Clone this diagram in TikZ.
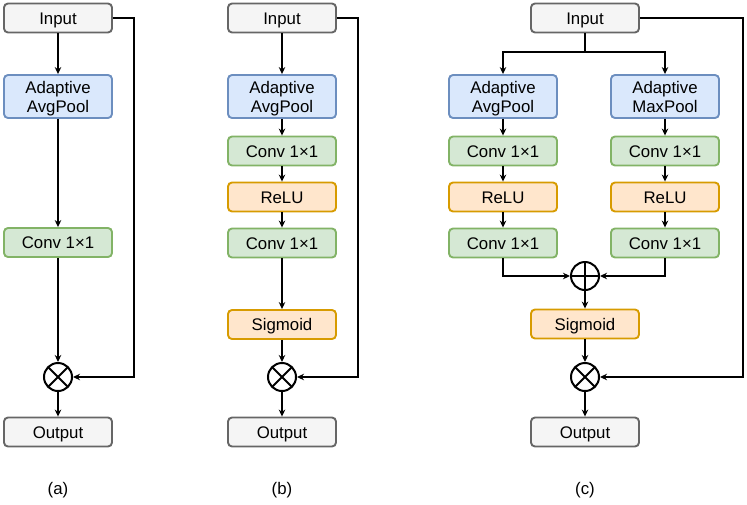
\documentclass[tikz,border=0pt]{standalone}
\usepackage{fontspec}
\setmainfont{Liberation Sans}
\usetikzlibrary{calc}
\usetikzlibrary{arrows.meta}
\definecolor{ioFill}{HTML}{F5F5F5}
\definecolor{ioLine}{HTML}{666666}
\definecolor{poolFill}{HTML}{DAE8FC}
\definecolor{poolLine}{HTML}{6C8EBF}
\definecolor{convFill}{HTML}{D5E8D4}
\definecolor{convLine}{HTML}{82B366}
\definecolor{actFill}{HTML}{FFE6CC}
\definecolor{actLine}{HTML}{D79B00}
\tikzstyle{blk} = [draw, rectangle, rounded corners=4pt, line width=1.9pt, minimum width=108pt, minimum height=29pt, inner sep=0pt, align=center, text height=12pt, text depth=0pt, font=\fontsize{16.8}{19}\selectfont]
\tikzstyle{ionode} = [blk, fill=ioFill, draw=ioLine]
\tikzstyle{poolnode} = [blk, fill=poolFill, draw=poolLine, minimum height=43pt, text height=31pt]
\tikzstyle{convnode} = [blk, fill=convFill, draw=convLine]
\tikzstyle{actnode} = [blk, fill=actFill, draw=actLine]
\tikzstyle{opnode} = [draw, circle, line width=2pt, minimum size=28pt, inner sep=0pt, fill=white]
\tikzstyle{mulnode} = [opnode, path picture={\draw[line width=2pt] (path picture bounding box.north west) -- (path picture bounding box.south east) (path picture bounding box.north east) -- (path picture bounding box.south west);}]
\tikzstyle{addnode} = [opnode, path picture={\draw[line width=2pt] (path picture bounding box.west) -- (path picture bounding box.east) (path picture bounding box.north) -- (path picture bounding box.south);}]
\tikzstyle{arr} = [-{Stealth[length=7pt,width=6.5pt]}, line width=1.3pt]
\tikzstyle{caption} = [font=\fontsize{16.8}{19}\selectfont]

\begin{document}
\begin{tikzpicture}[x=1pt, y=1pt]
\useasboundingbox (0,0) rectangle (747,-504);
% (a)
\node[ionode] (inA) at (58,-18) {Input};
\node[poolnode] (poolA) at ($(inA)+(0,-78.5)$) {Adaptive\\AvgPool};
\node[convnode] (convA) at ($(poolA)+(0,-146)$) {Conv 1×1};
\node[mulnode] (mulA) at ($(convA)+(0,-134.5)$) {};
\node[ionode] (outA) at ($(mulA)+(0,-55)$) {Output};
\coordinate (skipA) at ($(mulA)+(76,0)$);
\node[caption] (capA) at ($(outA)+(0,-58)$) {(a)};
\draw[arr] (inA) -- (poolA);
\draw[arr] (poolA) -- (convA);
\draw[arr] (convA) -- (mulA);
\draw[arr] (mulA) -- (outA);
\draw[arr] (inA.east) -| (skipA) -- (mulA.east);

% (b)
\node[ionode] (inB) at ($(inA)+(224,0)$) {Input};
\node[poolnode] (poolB) at ($(inB)+(0,-78.5)$) {Adaptive\\AvgPool};
\node[convnode] (convB1) at ($(poolB)+(0,-54.5)$) {Conv 1×1};
\node[actnode] (reluB) at ($(convB1)+(0,-46)$) {ReLU};
\node[convnode] (convB2) at ($(reluB)+(0,-46)$) {Conv 1×1};
\node[actnode] (sigB) at ($(convB2)+(0,-81.5)$) {Sigmoid};
\node[mulnode] (mulB) at ($(sigB)+(0,-52.5)$) {};
\node[ionode] (outB) at ($(mulB)+(0,-55)$) {Output};
\coordinate (skipB) at ($(mulB)+(76,0)$);
\node[caption] (capB) at ($(outB)+(0,-58)$) {(b)};
\draw[arr] (inB) -- (poolB);
\draw[arr] (poolB) -- (convB1);
\draw[arr] (convB1) -- (reluB);
\draw[arr] (reluB) -- (convB2);
\draw[arr] (convB2) -- (sigB);
\draw[arr] (sigB) -- (mulB);
\draw[arr] (mulB) -- (outB);
\draw[arr] (inB.east) -| (skipB) -- (mulB.east);

% (c)
\node[ionode] (inC) at ($(inB)+(303,0)$) {Input};
\coordinate (splitC) at ($(inC)+(0,-34)$);
\node[poolnode] (poolL) at ($(inC)+(-82,-78.5)$) {Adaptive\\AvgPool};
\node[poolnode] (poolR) at ($(inC)+(80,-78.5)$) {Adaptive\\MaxPool};
\node[convnode] (convL1) at ($(poolL)+(0,-54.5)$) {Conv 1×1};
\node[convnode] (convR1) at ($(poolR)+(0,-54.5)$) {Conv 1×1};
\node[actnode] (reluL) at ($(convL1)+(0,-46)$) {ReLU};
\node[actnode] (reluR) at ($(convR1)+(0,-46)$) {ReLU};
\node[convnode] (convL2) at ($(reluL)+(0,-46)$) {Conv 1×1};
\node[convnode] (convR2) at ($(reluR)+(0,-46)$) {Conv 1×1};
\node[addnode] (addC) at ($(inC)+(0,-258)$) {};
\node[actnode] (sigC) at ($(addC)+(0,-48)$) {Sigmoid};
\node[mulnode] (mulC) at ($(sigC)+(0,-53)$) {};
\node[ionode] (outC) at ($(mulC)+(0,-55)$) {Output};
\coordinate (skipC) at ($(mulC)+(158,0)$);
\node[caption] (capC) at ($(outC)+(0,-58)$) {(c)};
\draw[line width=1.3pt] (inC) -- (splitC);
\draw[arr] (splitC) -| (poolL);
\draw[arr] (splitC) -| (poolR);
\draw[arr] (poolL) -- (convL1);
\draw[arr] (poolR) -- (convR1);
\draw[arr] (convL1) -- (reluL);
\draw[arr] (convR1) -- (reluR);
\draw[arr] (reluL) -- (convL2);
\draw[arr] (reluR) -- (convR2);
\draw[arr] (convL2) |- (addC);
\draw[arr] (convR2) |- (addC);
\draw[arr] (addC) -- (sigC);
\draw[arr] (sigC) -- (mulC);
\draw[arr] (mulC) -- (outC);
\draw[arr] (inC.east) -| (skipC) -- (mulC.east);
\end{tikzpicture}
\end{document}
